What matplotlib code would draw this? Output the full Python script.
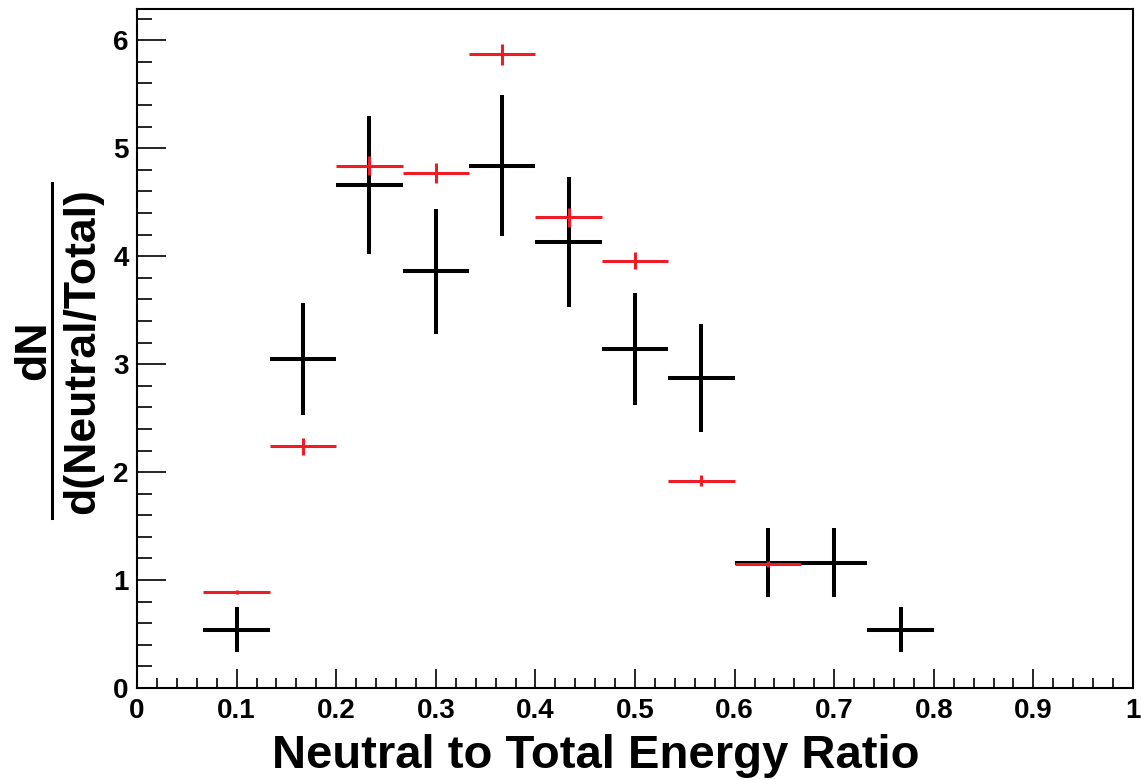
import matplotlib

matplotlib.use("Agg")
import matplotlib.pyplot as plt
import numpy as np
from matplotlib.lines import Line2D
from matplotlib.ticker import MultipleLocator

plt.rcParams["font.family"] = ["Liberation Sans", "DejaVu Sans"]
plt.rcParams["font.weight"] = "bold"

# bin centres of the neutral/total histogram (15 bins on [0, 1])
bin_width = 1.0 / 15
data_x = [0.1, 0.1667, 0.2333, 0.3, 0.3667, 0.4333, 0.5, 0.5667, 0.6333, 0.7, 0.7667]
data_y = [0.54, 3.05, 4.66, 3.86, 4.84, 4.13, 3.14, 2.87, 1.16, 1.16, 0.54]
data_err = [0.21, 0.52, 0.64, 0.58, 0.65, 0.60, 0.52, 0.50, 0.32, 0.32, 0.21]

mc_x = [0.1, 0.1667, 0.2333, 0.3, 0.3667, 0.4333, 0.5, 0.5667, 0.6333]
mc_y = [0.89, 2.24, 4.84, 4.77, 5.87, 4.36, 3.96, 1.92, 1.15]
mc_err = [0.02, 0.08, 0.09, 0.09, 0.10, 0.09, 0.08, 0.05, 0.03]

fig = plt.figure(figsize=(11.41, 7.80), dpi=100)
ax = fig.add_axes([0.1201, 0.1179, 0.8729, 0.8706])

ax.errorbar(data_x, data_y, xerr=bin_width / 2, yerr=data_err, fmt="none",
            ecolor="black", elinewidth=2.9, capsize=0, zorder=3)
ax.errorbar(mc_x, mc_y, xerr=bin_width / 2, yerr=mc_err, fmt="none",
            ecolor="#ee1c24", elinewidth=2.2, capsize=0, zorder=4)

ax.set_xlim(0, 1)
ax.set_ylim(0, 6.29)

ax.xaxis.set_major_locator(MultipleLocator(0.1))
ax.xaxis.set_minor_locator(MultipleLocator(0.02))
ax.yaxis.set_major_locator(MultipleLocator(1))
ax.yaxis.set_minor_locator(MultipleLocator(0.2))
ax.set_xticks(np.arange(0, 1.01, 0.1))
ax.set_xticklabels(["0", "0.1", "0.2", "0.3", "0.4", "0.5", "0.6", "0.7", "0.8", "0.9", "1"])
ax.set_yticklabels([str(int(v)) for v in ax.get_yticks()])

ax.tick_params(axis="x", which="major", direction="in", length=14, width=1.2,
               labelsize=20, pad=7)
ax.tick_params(axis="x", which="minor", direction="in", length=7, width=1.2)
ax.tick_params(axis="y", which="major", direction="in", length=21, width=1.2,
               labelsize=20, pad=6)
ax.tick_params(axis="y", which="minor", direction="in", length=11, width=1.2)
ax.tick_params(top=False, right=False, which="both")
for spine in ax.spines.values():
    spine.set_linewidth(1.5)

fig.text(596 / 1141, 1 - 768 / 780, "Neutral to Total Energy Ratio",
         ha="center", va="baseline", fontsize=34, fontweight="bold")

# y title drawn as a fraction dN / d(Neutral/Total)
fig.text(34 / 1141, 1 - 350 / 780, "dN", rotation=90, ha="center", va="center",
         fontsize=32, fontweight="bold")
fig.text(83 / 1141, 1 - 351 / 780, "d(Neutral/Total)", rotation=90,
         ha="center", va="center", fontsize=32, fontweight="bold")
fig.add_artist(Line2D([52 / 1141, 52 / 1141], [1 - 518 / 780, 1 - 183 / 780],
                      transform=fig.transFigure, color="black", lw=2.2))

fig.savefig("out.png", dpi=100)
plt.close(fig)
